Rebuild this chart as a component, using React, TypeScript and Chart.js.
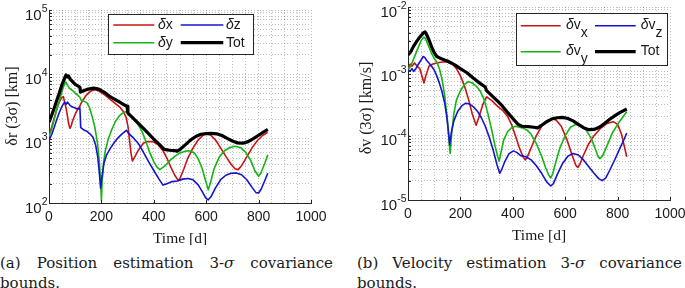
import React, { useEffect, useRef } from "react";
import { Chart, registerables } from "chart.js";

Chart.register(...registerables);

// ---------------- data: (a) position 3-sigma bounds [km] ----------------
const timeTicks = [0, 200, 400, 600, 800, 1000];

const posXT = [0,10,20,30,40,50,55,60,65,70,75,80,85,90,100,110,118,120,130,140,150,160,175,190,210,230,250,270,285,295,302,308,313,318,325,340,360,375,395,415,435,450,465,480,493,500,515,530,550,570,590,600,615,635,655,675,695,710,722,735,755,775,795,815,835];
const posXV = [1130,1500,2100,2900,3800,4400,4500,3600,3000,2300,1700,1450,1600,1900,2400,2900,3200,3400,4000,4600,5100,5500,5750,5500,4900,4200,3600,3100,2600,2100,1500,900,600,450,500,650,850,900,900,820,650,500,360,270,225,240,340,500,720,960,1150,1190,1150,960,720,530,400,340,330,380,520,720,930,1120,1250];

const posYT = [0,10,20,30,40,50,60,65,70,80,90,100,110,118,122,135,145,155,165,175,185,192,197,200,203,208,215,225,240,255,270,285,295,305,320,340,355,370,385,400,412,423,440,460,480,500,520,535,555,570,585,598,608,618,630,650,670,690,710,730,750,770,785,800,810,825,835];
const posYV = [1070,1400,2000,2900,4000,5500,7200,7600,6800,6000,5600,5100,4700,4400,4000,3800,3600,3000,2200,1500,850,450,220,110,220,420,650,950,1400,1900,2300,2550,2650,2500,2100,1650,1300,900,600,440,360,330,370,450,530,600,640,650,600,480,340,220,160,220,340,520,650,730,760,730,620,460,320,260,300,430,560];

const posZT = [0,10,20,30,40,50,60,65,70,80,90,100,110,118,121,125,135,145,155,168,178,186,192,197,202,210,220,235,250,265,280,295,305,320,340,360,380,400,420,435,450,470,490,510,530,550,570,585,598,608,618,635,655,675,695,715,735,755,775,790,800,810,825,835];
const posZV = [950,1150,1500,2000,2600,3200,3700,3400,3700,3300,3100,3000,2900,3000,1500,1450,1350,1300,1200,1050,800,520,300,170,250,420,560,720,880,1050,1200,1350,1200,1050,850,620,440,320,235,190,200,215,220,235,240,230,190,150,120,112,125,170,230,270,290,292,275,230,175,145,143,165,230,290];

const posTotT = [0,10,20,30,40,50,60,65,70,75,80,90,100,110,118,120,130,150,170,190,210,230,250,270,290,298,301,320,350,380,400,420,440,460,480,490,500,520,540,560,580,600,620,640,660,680,700,720,740,760,780,800,820,835];
const posTotV = [1800,2300,3000,4000,5200,7000,8800,9800,9100,9400,8500,7700,7000,6600,6300,5300,5500,5900,6100,5900,5300,4600,4100,3700,3300,3200,2500,2100,1600,1200,980,820,680,660,650,640,680,800,950,1080,1170,1200,1210,1190,1120,1010,920,860,850,900,1000,1130,1280,1390];

// ---------------- data: (b) velocity 3-sigma bounds [km/s] ----------------
const velXT = [0,8,15,25,35,45,55,61,68,80,95,110,130,150,170,185,200,215,230,245,260,270,285,300,320,340,360,380,395,410,425,440,447,455,470,490,510,530,550,565,585,605,625,640,648,656,670,690,710,735,760,783,800,815,825,835];
const velXV = [1.1e-3,1.3e-3,1.2e-3,1.35e-3,1.2e-3,1.1e-3,8.0e-4,6.6e-4,8.5e-4,1.2e-3,1.3e-3,1.35e-3,1.4e-3,1.4e-3,1.3e-3,1.1e-3,8.5e-4,6.0e-4,3.8e-4,2.2e-4,1.45e-4,1.9e-4,3.0e-4,4.0e-4,3.5e-4,2.9e-4,2.5e-4,2.0e-4,1.5e-4,1.0e-4,6.5e-5,4.6e-5,4.2e-5,4.6e-5,6.5e-5,1.0e-4,1.4e-4,1.7e-4,1.82e-4,1.75e-4,1.4e-4,9e-5,5.2e-5,3.5e-5,3.2e-5,3.6e-5,5.0e-5,7.5e-5,1.0e-4,1.3e-4,1.55e-4,1.65e-4,1.5e-4,1.05e-4,7e-5,4.7e-5];

const velYT = [0,10,20,30,40,50,60,65,70,80,90,100,110,120,130,140,150,156,161,167,175,185,200,215,230,245,260,275,290,305,320,332,342,348,355,365,380,395,410,425,440,455,470,490,510,525,538,545,553,565,580,600,620,640,660,680,700,715,725,732,742,760,780,800,820,835];
const velYV = [1.05e-3,1.2e-3,1.5e-3,1.9e-3,2.4e-3,3.0e-3,3.4e-3,3.3e-3,3.0e-3,2.4e-3,1.9e-3,1.6e-3,1.4e-3,1.1e-3,7.5e-4,4.2e-4,1.8e-4,9e-5,5.3e-5,1.1e-4,2.2e-4,3.6e-4,5.0e-4,6.2e-4,6.9e-4,6.6e-4,5.9e-4,5.0e-4,3.7e-4,2.2e-4,1.2e-4,7e-5,4.8e-5,4.0e-5,5.5e-5,8.5e-5,1.15e-4,1.33e-4,1.4e-4,1.35e-4,1.3e-4,1.22e-4,1.05e-4,7.5e-5,4.8e-5,3.2e-5,2.4e-5,2.2e-5,2.6e-5,4.0e-5,6.5e-5,1.0e-4,1.35e-4,1.5e-4,1.45e-4,1.22e-4,9e-5,6.2e-5,4.8e-5,4.4e-5,4.8e-5,7e-5,1.1e-4,1.5e-4,1.95e-4,2.35e-4];

const velZT = [0,8,15,22,30,40,50,58,64,70,80,90,100,110,120,130,140,148,154,159,165,175,190,205,220,235,250,265,280,295,310,325,340,350,358,370,385,402,415,430,450,470,490,510,530,545,555,570,590,610,630,650,670,690,710,728,741,755,770,790,810,825,835];
const velZV = [1.05e-3,1.0e-3,1.1e-3,1.0e-3,1.1e-3,1.3e-3,1.5e-3,1.7e-3,1.65e-3,1.5e-3,1.35e-3,1.2e-3,1.05e-3,8.5e-4,6.5e-4,4.8e-4,3.2e-4,2.0e-4,1.2e-4,7.2e-5,1.1e-4,1.7e-4,2.4e-4,2.9e-4,3.2e-4,3.1e-4,2.8e-4,2.4e-4,1.9e-4,1.4e-4,9.5e-5,6e-5,3.5e-5,2.6e-5,3.0e-5,4.0e-5,5.2e-5,5.8e-5,5.5e-5,4.9e-5,4.7e-5,4.2e-5,3.4e-5,2.6e-5,1.9e-5,1.65e-5,1.8e-5,2.5e-5,3.7e-5,4.8e-5,5.3e-5,5.0e-5,4.2e-5,3.3e-5,2.6e-5,2.15e-5,2.0e-5,2.2e-5,2.9e-5,4.3e-5,6.5e-5,8.8e-5,1.1e-4];

const velTotT = [0,10,20,30,40,50,60,65,70,80,90,100,110,130,150,165,180,200,225,250,275,295,300,320,340,360,380,400,420,435,460,480,495,510,530,550,570,590,610,630,650,670,690,710,730,750,770,790,810,835];
const velTotV = [1.8e-3,2.0e-3,2.4e-3,2.8e-3,3.2e-3,3.6e-3,4.0e-3,4.1e-3,3.8e-3,3.1e-3,2.4e-3,1.95e-3,1.7e-3,1.55e-3,1.45e-3,1.35e-3,1.25e-3,1.1e-3,9.5e-4,7.8e-4,6.5e-4,5.7e-4,5.0e-4,4.2e-4,3.5e-4,2.9e-4,2.3e-4,1.85e-4,1.5e-4,1.4e-4,1.38e-4,1.35e-4,1.32e-4,1.45e-4,1.65e-4,1.83e-4,1.9e-4,1.92e-4,1.85e-4,1.7e-4,1.5e-4,1.33e-4,1.24e-4,1.25e-4,1.35e-4,1.55e-4,1.8e-4,2.05e-4,2.3e-4,2.6e-4];

const posLabels = ["x", "y", "z", "Tot"];
const velLabels = ["x", "y", "z", "Tot"];
const posDecades = [2, 3, 4, 5];
const velDecades = [-5, -4, -3, -2];

// ---------------- styling ----------------
const RED = "#c81414";
const GREEN = "#14b414";
const BLUE = "#1414cc";
const BLACK = "#000000";
const AXIS = "#262626";
const TEXT = "#1a1a1a";
const GRID = "rgba(40,40,40,0.30)";
const SANS = '"Liberation Sans", Arial, Helvetica, sans-serif';
const SERIF = '"Liberation Serif", "Times New Roman", serif';
const CAPSERIF = '"DejaVu Serif", "Liberation Serif", serif';

type Series = { t: number[]; v: number[]; color: string; width: number; order: number; label: string };
type Panel = {
  key: string;
  w: number; h: number;
  padTop: number; padRight: number; yAxisW: number; xAxisH: number;
  decades: number[];
  series: Series[];
  yTitle: string; yTitleX: number; yTitleY: number;
  xTitle: string; xTitleY: number; xLabelDy: number;
  legend: {
    box: [number, number, number, number];
    rows: number[]; lines: [number, number][]; textX: number[];
    sub: boolean; subDy: number; textDy: number;
  };
};

function pts(t: number[], v: number[]) {
  return t.map((x, i) => ({ x, y: v[i] }));
}

function decor(p: Panel) {
  return {
    id: "decor" + p.key,
    afterDraw(chart: any) {
      const ctx: CanvasRenderingContext2D = chart.ctx;
      const a = chart.chartArea;
      const xs = chart.scales.x;
      const ys = chart.scales.y;
      ctx.save();
      ctx.setLineDash([]);
      // inward tick marks
      ctx.strokeStyle = AXIS;
      ctx.lineWidth = 1;
      ctx.beginPath();
      for (const tk of ys.ticks) {
        const y = Math.round(ys.getPixelForValue(tk.value)) + 0.5;
        ctx.moveTo(a.left, y);
        ctx.lineTo(a.left + 3, y);
      }
      for (const v of timeTicks) {
        const x = Math.round(xs.getPixelForValue(v)) + 0.5;
        ctx.moveTo(x, a.bottom);
        ctx.lineTo(x, a.bottom - 3);
      }
      ctx.stroke();

      ctx.fillStyle = TEXT;
      // y tick labels 10^e
      for (const e of p.decades) {
        const y = ys.getPixelForValue(Math.pow(10, e));
        const exp = String(e);
        ctx.textAlign = "right";
        ctx.textBaseline = "alphabetic";
        ctx.font = `10.5px ${SANS}`;
        const ew = ctx.measureText(exp).width;
        const rx = a.left - 1.5;
        ctx.fillText(exp, rx, y + 1.5);
        ctx.font = `15px ${SANS}`;
        ctx.fillText("10", rx - ew, y + 9.8);
      }
      // x tick labels
      ctx.font = `14px ${SANS}`;
      ctx.textAlign = "center";
      ctx.textBaseline = "middle";
      for (const v of timeTicks) {
        ctx.fillText(String(v), xs.getPixelForValue(v), a.bottom + p.xLabelDy);
      }
      // axis titles
      ctx.font = `15.5px ${SERIF}`;
      ctx.fillText(p.xTitle, (a.left + a.right) / 2, p.xTitleY);
      ctx.font = `16px ${SERIF}`;
      ctx.save();
      ctx.translate(p.yTitleX, p.yTitleY);
      ctx.rotate(-Math.PI / 2);
      ctx.fillText(p.yTitle, 0, 0);
      ctx.restore();

      // legend
      const L = p.legend;
      const [bx, by, bw, bh] = L.box;
      ctx.fillStyle = "#ffffff";
      ctx.fillRect(bx, by, bw, bh);
      ctx.strokeStyle = AXIS;
      ctx.lineWidth = 1;
      ctx.strokeRect(Math.round(bx) + 0.5, Math.round(by) + 0.5, Math.round(bw), Math.round(bh));
      const cells = [
        [0, 0], [0, 1], [1, 0], [1, 1],
      ];
      p.series.forEach((s, i) => {
        const [col, row] = cells[i];
        const y = L.rows[row];
        ctx.strokeStyle = s.color;
        ctx.lineWidth = s.width;
        ctx.lineCap = "butt";
        ctx.beginPath();
        ctx.moveTo(L.lines[col][0], y);
        ctx.lineTo(L.lines[col][1], y);
        ctx.stroke();
        ctx.fillStyle = TEXT;
        ctx.textAlign = "left";
        ctx.textBaseline = "middle";
        let x = L.textX[col];
        const ty = y + L.textDy;
        if (s.label === "Tot") {
          ctx.font = `14px ${SANS}`;
          ctx.fillText("Tot", x, ty);
        } else {
          ctx.font = `italic 14px ${SANS}`;
          ctx.fillText("δ", x, ty);
          x += ctx.measureText("δ").width;
          ctx.font = `14px ${SANS}`;
          if (L.sub) {
            ctx.fillText("v", x, ty);
            x += ctx.measureText("v").width;
            ctx.fillText(s.label, x, ty + L.subDy);
          } else {
            ctx.fillText(s.label, x, ty);
          }
        }
      });
      ctx.restore();
    },
  };
}

function makeConfig(p: Panel): any {
  const lo = Math.min(...p.decades);
  const hi = Math.max(...p.decades);
  return {
    type: "line",
    data: {
      datasets: p.series.map((s) => ({
        label: s.label,
        data: pts(s.t, s.v),
        borderColor: s.color,
        backgroundColor: s.color,
        borderWidth: s.width,
        pointRadius: 0,
        tension: 0,
        fill: false,
        order: s.order,
        borderJoinStyle: "round",
      })),
    },
    options: {
      responsive: false,
      animation: false,
      devicePixelRatio: 1,
      events: [],
      layout: { padding: { top: p.padTop, right: p.padRight, left: 0, bottom: 0 } },
      plugins: { legend: { display: false }, tooltip: { enabled: false }, title: { display: false } },
      scales: {
        x: {
          type: "linear",
          min: 0,
          max: 1000,
          afterBuildTicks: (s: any) => {
            const out: any[] = [];
            for (let v = 0; v <= 1000; v += 50) out.push({ value: v });
            s.ticks = out;
          },
          afterFit: (s: any) => {
            s.height = p.xAxisH;
          },
          ticks: { display: false },
          grid: { color: GRID, lineWidth: 1, drawTicks: false },
          border: { display: true, color: AXIS, width: 1, dash: [1, 2] },
        },
        y: {
          type: "logarithmic",
          min: Math.pow(10, lo),
          max: Math.pow(10, hi),
          afterBuildTicks: (s: any) => {
            const out: any[] = [];
            for (let e = lo; e < hi; e++)
              for (let m = 1; m <= 9; m++) out.push({ value: m * Math.pow(10, e), major: m === 1 });
            out.push({ value: Math.pow(10, hi), major: true });
            s.ticks = out;
          },
          afterFit: (s: any) => {
            s.width = p.yAxisW;
          },
          ticks: { display: false },
          grid: { color: GRID, lineWidth: 1, drawTicks: false },
          border: { display: true, color: AXIS, width: 1, dash: [1, 2] },
        },
      },
    },
    plugins: [decor(p)],
  };
}

const leftPanel: Panel = {
  key: "pos",
  w: 342, h: 245,
  padTop: 10, padRight: 31, yAxisW: 49, xAxisH: 42,
  decades: posDecades,
  series: [
    { t: posXT, v: posXV, color: RED, width: 1.6, order: 3, label: posLabels[0] },
    { t: posYT, v: posYV, color: GREEN, width: 1.6, order: 2, label: posLabels[1] },
    { t: posZT, v: posZV, color: BLUE, width: 1.6, order: 1, label: posLabels[2] },
    { t: posTotT, v: posTotV, color: BLACK, width: 3.2, order: 0, label: posLabels[3] },
  ],
  yTitle: "δr (3σ) [km]", yTitleX: 13, yTitleY: 106,
  xTitle: "Time [d]", xTitleY: 238.5, xLabelDy: 14,
  legend: {
    box: [108, 14, 144.5, 40],
    rows: [25, 42.7],
    lines: [[113.3, 154.3], [180.7, 223.3]],
    textX: [158, 226],
    sub: false, subDy: 0, textDy: 0,
  },
};

const rightPanel: Panel = {
  key: "vel",
  w: 343, h: 245,
  padTop: 7, padRight: 15, yAxisW: 66, xAxisH: 45,
  decades: velDecades,
  series: [
    { t: velXT, v: velXV, color: RED, width: 1.6, order: 3, label: velLabels[0] },
    { t: velYT, v: velYV, color: GREEN, width: 1.6, order: 2, label: velLabels[1] },
    { t: velZT, v: velZV, color: BLUE, width: 1.6, order: 1, label: velLabels[2] },
    { t: velTotT, v: velTotV, color: BLACK, width: 3.2, order: 0, label: velLabels[3] },
  ],
  yTitle: "δv (3σ) [km/s]", yTitleX: 24.5, yTitleY: 108,
  xTitle: "Time [d]", xTitleY: 235.5, xLabelDy: 14,
  legend: {
    box: [174, 12.7, 150.7, 52.3],
    rows: [25.7, 51.7],
    lines: [[178.7, 218.7], [253, 293.7]],
    textX: [224, 298.7],
    sub: true, subDy: 8, textDy: -0.7,
  },
};

function ChartPanel({ panel, left }: { panel: Panel; left: number }) {
  const ref = useRef<HTMLCanvasElement | null>(null);
  useEffect(() => {
    if (!ref.current) return;
    const chart = new Chart(ref.current, makeConfig(panel));
    return () => chart.destroy();
  }, [panel]);
  return (
    <canvas
      ref={ref}
      width={panel.w}
      height={panel.h}
      style={{ position: "absolute", left, top: 0, width: panel.w, height: panel.h }}
    />
  );
}

function Caption({ left, width, tag, what }: { left: number; width: number; tag: string; what: string }) {
  return (
    <div
      style={{
        position: "absolute",
        left,
        top: 253,
        width,
        fontFamily: CAPSERIF,
        fontSize: "15px",
        lineHeight: "20px",
        color: TEXT,
      }}
    >
      <div style={{ textAlign: "justify", textAlignLast: "justify" as any }}>
        ({tag}) {what} estimation 3-<i>σ</i> covariance
      </div>
      <div>bounds.</div>
    </div>
  );
}

export default function App() {
  return (
    <div
      style={{
        position: "absolute",
        left: 0,
        top: 0,
        width: 685,
        height: 288,
        overflow: "hidden",
        background: "#ffffff",
      }}
    >
      <ChartPanel panel={leftPanel} left={0} />
      <ChartPanel panel={rightPanel} left={342} />
      <Caption left={0} width={333} tag="a" what="Position" />
      <Caption left={357} width={325} tag="b" what="Velocity" />
    </div>
  );
}
